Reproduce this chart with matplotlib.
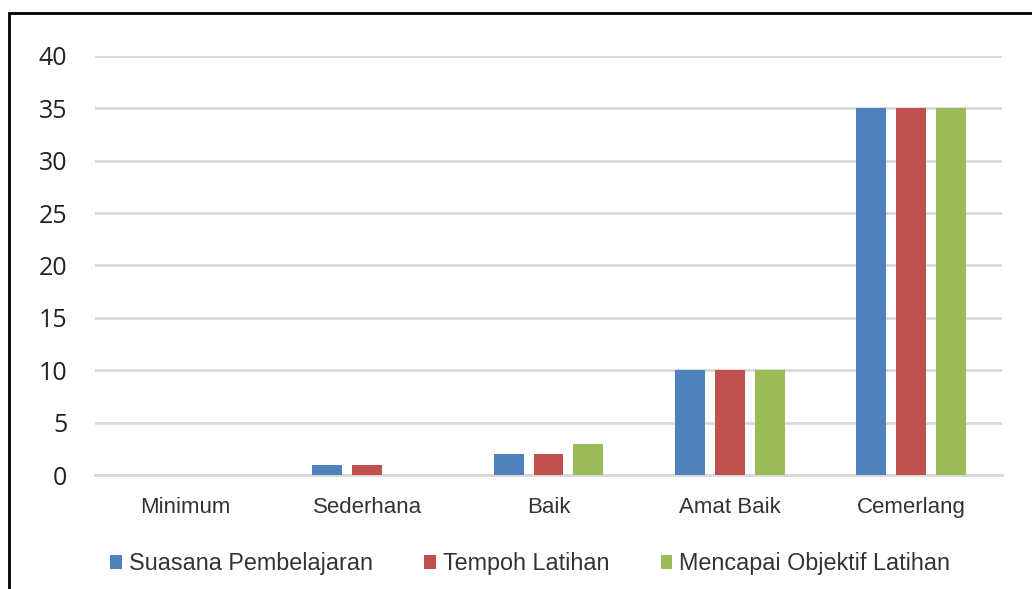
import matplotlib.pyplot as plt
import matplotlib.patches as patches
import numpy as np

categories = ['Minimum', 'Sederhana', 'Baik', 'Amat Baik', 'Cemerlang']
series_names = ['Suasana Pembelajaran', 'Tempoh Latihan', 'Mencapai Objektif Latihan']
suasana = [0, 1, 2, 10, 35]
tempoh = [0, 1, 2, 10, 35]
objektif = [0, 0, 3, 10, 35]
y_ticks = [0, 5, 10, 15, 20, 25, 30, 35, 40]

colors = ['#4F81BD', '#C0504D', '#9BBB59']

fig = plt.figure(figsize=(10.32, 5.89), dpi=100)
ax = fig.add_axes([0.092, 0.1935, 0.879, 0.7115])

x = np.arange(len(categories))
step = 0.22
width = 0.165
for i, (vals, name) in enumerate(zip([suasana, tempoh, objektif], series_names)):
    ax.bar(x + (i - 1) * step, vals, width, color=colors[i], label=name, zorder=3)

ax.set_xlim(-0.5, len(categories) - 0.5)
ax.set_ylim(0, 40)
ax.set_yticks(y_ticks)
ax.set_yticklabels([str(t) for t in y_ticks], fontsize=18, family='Open Sans', color='#222222')
ax.set_xticks(x)
ax.set_xticklabels(categories, fontsize=16, family='Liberation Sans', color='#333333')
ax.tick_params(length=0)
ax.tick_params(axis='y', pad=20)
ax.tick_params(axis='x', pad=16)

ax.grid(axis='y', color='#D9D9D9', linewidth=2, zorder=0)
for s in ['top', 'right', 'left']:
    ax.spines[s].set_visible(False)
ax.spines['bottom'].set_color('#D9D9D9')
ax.spines['bottom'].set_linewidth(2)

leg = ax.legend(loc='upper center', bbox_to_anchor=(0.48, -0.134), ncol=3, frameon=False,
                prop={'family': 'Liberation Sans', 'size': 16.8},
                handlelength=0.5, handleheight=0.5, handletextpad=0.3, columnspacing=2.2)
for t in leg.get_texts():
    t.set_color('#333333')

# outer frame (cut off at right and bottom in the source image)
frame = patches.Rectangle((9 / 1032, -0.1), 1.2, 1 - 13 / 589 + 0.1, transform=fig.transFigure,
                          fill=False, edgecolor='black', linewidth=2, clip_on=False)
fig.patches.append(frame)

fig.savefig('out.png', dpi=100)
